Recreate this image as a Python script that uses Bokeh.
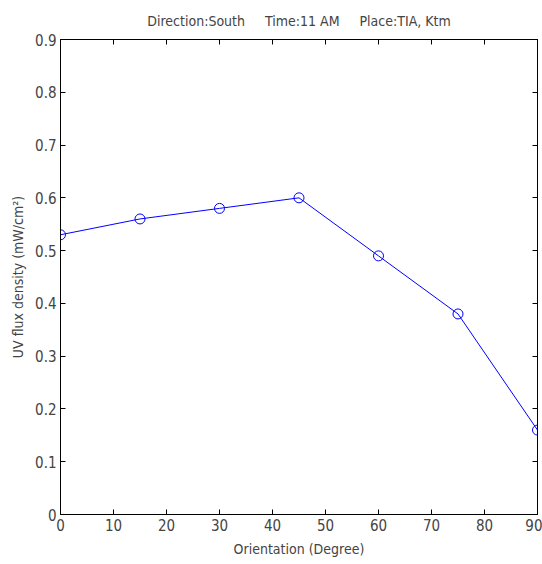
from bokeh.plotting import figure
from bokeh.models import LinearAxis, FixedTicker, Range1d
from bokeh.embed import file_html
from bokeh.resources import INLINE

orientation = [0, 15, 30, 45, 60, 75, 90]
uv_flux = [0.53, 0.56, 0.58, 0.60, 0.49, 0.38, 0.16]
x_ticks = [0, 10, 20, 30, 40, 50, 60, 70, 80, 90]
y_ticks = [0, 0.1, 0.2, 0.3, 0.4, 0.5, 0.6, 0.7, 0.8, 0.9]

FONT = "Liberation Sans Narrow, Arial Narrow, DejaVu Sans Condensed, Liberation Sans"
NB = "\u00a0"
title_text = f"Direction:South{NB*5}Time:11 AM{NB*5}Place:TIA, Ktm"

p = figure(width=542, height=564, output_backend="svg", toolbar_location=None,
           x_range=Range1d(0, 90), y_range=Range1d(0, 0.9),
           x_axis_label="Orientation (Degree)",
           y_axis_label="UV flux density (mW/cm²)",
           title=title_text)
p.min_border_left = 60
p.min_border_right = 5
p.min_border_top = 38
p.min_border_bottom = 50
p.background_fill_color = "white"
p.border_fill_color = "white"
p.outline_line_color = "black"
p.xgrid.visible = False
p.ygrid.visible = False

p.title.align = "center"
p.title.text_font = FONT
p.title.text_font_size = "14px"
p.title.text_font_style = "normal"
p.title.offset = 0
p.title.standoff = 21

for ax in (p.xaxis[0], p.yaxis[0]):
    ax.major_tick_in = 5
    ax.major_tick_out = 0
    ax.minor_tick_in = 0
    ax.minor_tick_out = 0
    ax.major_label_text_font = FONT
    ax.major_label_text_font_size = "15px"
    ax.axis_label_text_font = FONT
    ax.axis_label_text_font_size = "14px"
    ax.axis_label_text_font_style = "normal"
    ax.axis_line_color = "black"
    ax.major_tick_line_color = "black"

p.xaxis[0].ticker = FixedTicker(ticks=x_ticks)
p.yaxis[0].ticker = FixedTicker(ticks=y_ticks)
p.xaxis[0].major_label_standoff = 4
p.yaxis[0].major_label_standoff = 4
p.xaxis[0].axis_label_standoff = 7
p.yaxis[0].axis_label_standoff = 6

top = LinearAxis(ticker=FixedTicker(ticks=x_ticks), major_label_text_color=None,
                 major_tick_in=5, major_tick_out=0, minor_tick_in=0, minor_tick_out=0,
                 major_label_text_font_size="1px", major_label_standoff=0)
right = LinearAxis(ticker=FixedTicker(ticks=y_ticks), major_label_text_color=None,
                   major_tick_in=5, major_tick_out=0, minor_tick_in=0, minor_tick_out=0,
                   major_label_text_font_size="1px", major_label_standoff=0)
p.add_layout(top, "above")
p.add_layout(right, "right")

p.line(orientation, uv_flux, line_color="#0000ff", line_width=1)
p.scatter(orientation, uv_flux, marker="circle", size=10, fill_color=None,
          line_color="#0000ff", line_width=1)

open("out.html", "w").write(file_html(p, INLINE))
